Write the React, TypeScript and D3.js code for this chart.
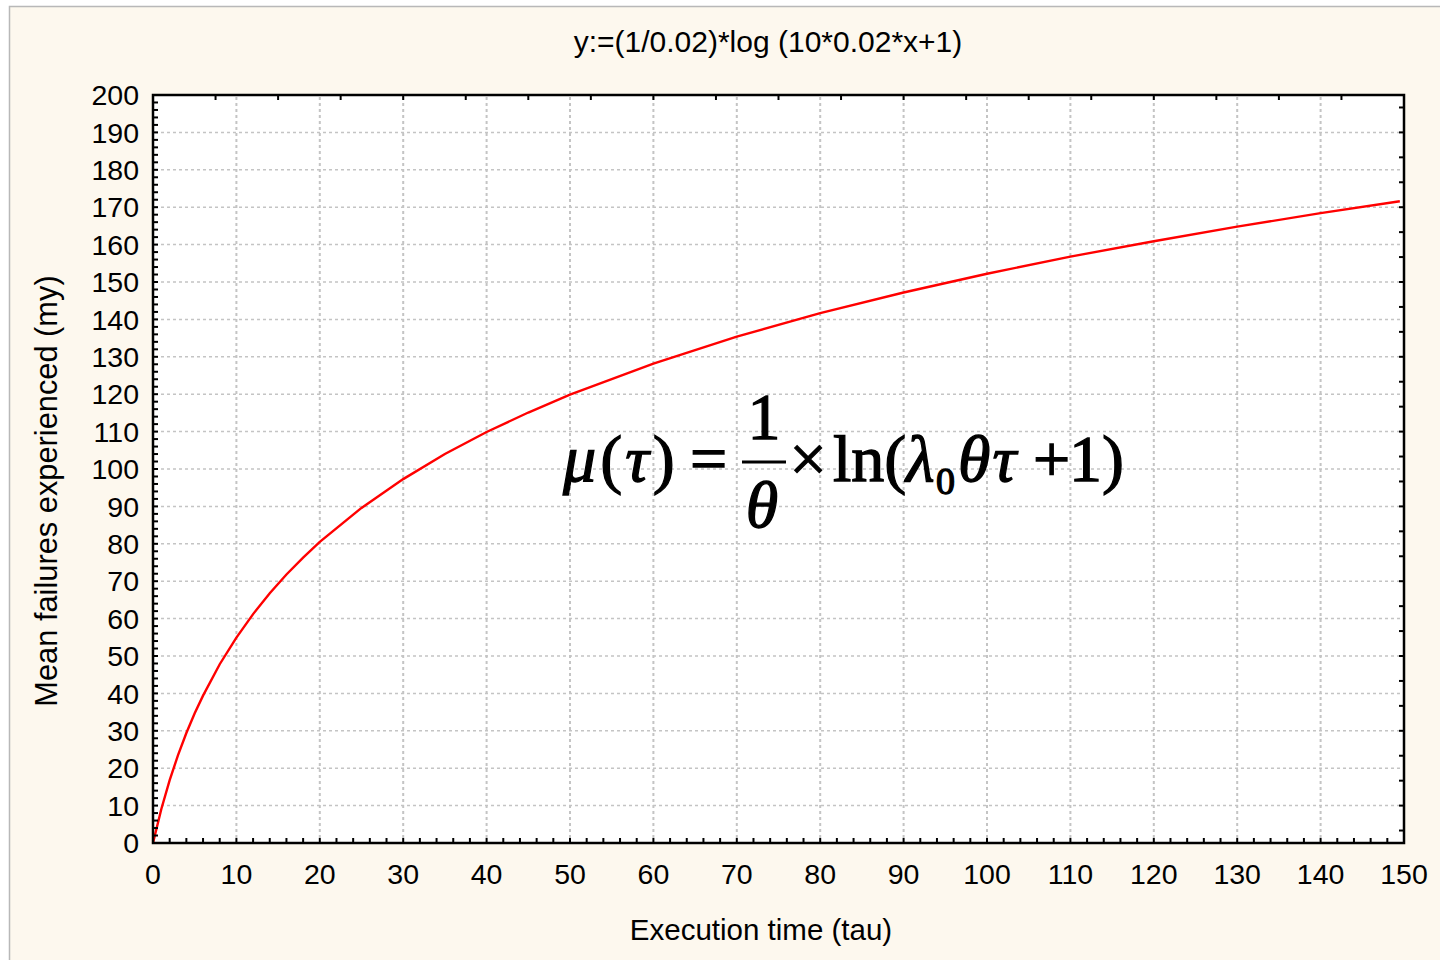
import React from "react";
import * as d3 from "d3";

const xData = [0, 1, 2, 3, 4, 5, 6, 8, 10, 12, 14, 16, 18, 20, 25, 30, 35, 40, 45, 50, 60, 70, 80, 90, 100, 110, 120, 130, 140, 149.5];
const yData = [0, 9.1, 16.8, 23.5, 29.4, 34.7, 39.4, 47.8, 54.9, 61.2, 66.8, 71.8, 76.3, 80.5, 89.6, 97.3, 104.0, 109.9, 115.1, 119.9, 128.2, 135.4, 141.7, 147.2, 152.2, 156.8, 160.9, 164.8, 168.4, 171.6];

const xTicks = [0, 10, 20, 30, 40, 50, 60, 70, 80, 90, 100, 110, 120, 130, 140, 150];
const yTicks = [0, 10, 20, 30, 40, 50, 60, 70, 80, 90, 100, 110, 120, 130, 140, 150, 160, 170, 180, 190, 200];

const titleText = "y:=(1/0.02)*log (10*0.02*x+1)";
const xLabel = "Execution time (tau)";
const yLabel = "Mean failures experienced (my)";

const W = 1440;
const H = 960;
const left = 153;
const right = 1404;
const top = 95;
const bottom = 843;

export default function App() {
  const x = d3.scaleLinear().domain([0, 150]).range([left, right]);
  const y = d3.scaleLinear().domain([0, 200]).range([bottom, top]);
  const pts: [number, number][] = xData.map((d, i) => [d, yData[i]]);
  const line = d3
    .line<[number, number]>()
    .x((d) => x(d[0]))
    .y((d) => y(d[1]));

  const minorX = d3.range(0, 150.001, 2);
  const minorY = d3.range(0, 200.001, 2);
  const topT = d3.range(0, 150.001, 7.5);
  const rightT = d3.range(0, 30).map((k) => 200 - 10 / 3 - (20 / 3) * k);

  const font = "Arial, 'Liberation Sans', sans-serif";
  const serif = "'Times New Roman', 'Liberation Serif', serif";
  const fs = 66;
  const base = 481;

  return (
    <div style={{ position: "absolute", left: 0, top: 0, width: W, height: H, overflow: "hidden" }}>
      <svg width={W} height={H} style={{ display: "block" }}>
        <rect x={0} y={0} width={W} height={H} fill="#ffffff" />
        <rect x={9.5} y={6.5} width={W + 20} height={H + 20} fill="#fdf8ee" stroke="#b8b8b8" strokeWidth={1.5} />
        <rect x={left} y={top} width={right - left} height={bottom - top} fill="#ffffff" />
        {/* grid */}
        {xTicks.slice(1, -1).map((t) => (
          <line key={"gx" + t} x1={x(t)} x2={x(t)} y1={top + 2} y2={bottom - 2} stroke="#c4c4c4" strokeWidth={2} strokeDasharray="3,3" />
        ))}
        {yTicks.slice(1, -1).map((t) => (
          <line key={"gy" + t} x1={left + 2} x2={right - 2} y1={y(t)} y2={y(t)} stroke="#c4c4c4" strokeWidth={1.5} strokeDasharray="3,3" />
        ))}
        {/* formula */}
        <g fontFamily={serif} fill="#000" fontSize={fs} stroke="#000" strokeWidth={1.3}>
          <text x={563} y={base}>
            <tspan fontStyle="italic">μ</tspan>
            <tspan dx={4}>(</tspan>
            <tspan fontStyle="italic" dx={3}>τ</tspan>
            <tspan dx={4}>)</tspan>
          </text>
          <text x={690} y={base}>=</text>
          <text x={764} y={439} textAnchor="middle">1</text>
          <line x1={742} x2={786} y1={462} y2={462} stroke="#000" strokeWidth={3} />
          <text x={762} y={527} textAnchor="middle" fontStyle="italic">θ</text>
          <text x={808} y={base} textAnchor="middle">×</text>
          <text x={833} y={base}>ln(</text>
          <text x={906} y={base} fontStyle="italic">λ</text>
          <text x={936} y={base + 13} fontSize={38}>0</text>
          <text x={958} y={base} fontStyle="italic">
            θ<tspan dx={2}>τ</tspan>
          </text>
          <text x={1033} y={base}>+</text>
          <text x={1069} y={base}>1)</text>
        </g>
        {/* curve */}
        <path d={line(pts) || ""} fill="none" stroke="#ff0000" strokeWidth={2.4} />
        {/* ticks */}
        {minorY.map((t) => (
          <line key={"ly" + t} x1={left} x2={left + 5} y1={y(t)} y2={y(t)} stroke="#000" strokeWidth={2} />
        ))}
        {minorX.map((t) => (
          <line key={"bx" + t} x1={x(t)} x2={x(t)} y1={bottom} y2={bottom - 5} stroke="#000" strokeWidth={2} />
        ))}
        {topT.map((t) => (
          <line key={"tx" + t} x1={x(t)} x2={x(t)} y1={top} y2={top + 5} stroke="#000" strokeWidth={2} />
        ))}
        {rightT.map((t) => (
          <line key={"ry" + t} x1={right} x2={right - 5} y1={y(t)} y2={y(t)} stroke="#000" strokeWidth={2} />
        ))}
        <rect x={left} y={top} width={right - left} height={bottom - top} fill="none" stroke="#000" strokeWidth={2.5} />
        {/* tick labels */}
        <g fontFamily={font} fontSize={28.5} fill="#000">
          {yTicks.map((t) => (
            <text key={"yl" + t} x={139} y={y(t)} dy="0.36em" textAnchor="end">
              {t}
            </text>
          ))}
          {xTicks.map((t) => (
            <text key={"xl" + t} x={x(t)} y={884} textAnchor="middle">
              {t}
            </text>
          ))}
        </g>
        <text x={768} y={52} textAnchor="middle" fontFamily={font} fontSize={30} fill="#000">
          {titleText}
        </text>
        <text x={761} y={940} textAnchor="middle" fontFamily={font} fontSize={29.5} fill="#000">
          {xLabel}
        </text>
        <text
          transform={`translate(57, 491) rotate(-90)`}
          textAnchor="middle"
          fontFamily={font}
          fontSize={30.8}
          fill="#000"
        >
          {yLabel}
        </text>
      </svg>
    </div>
  );
}
